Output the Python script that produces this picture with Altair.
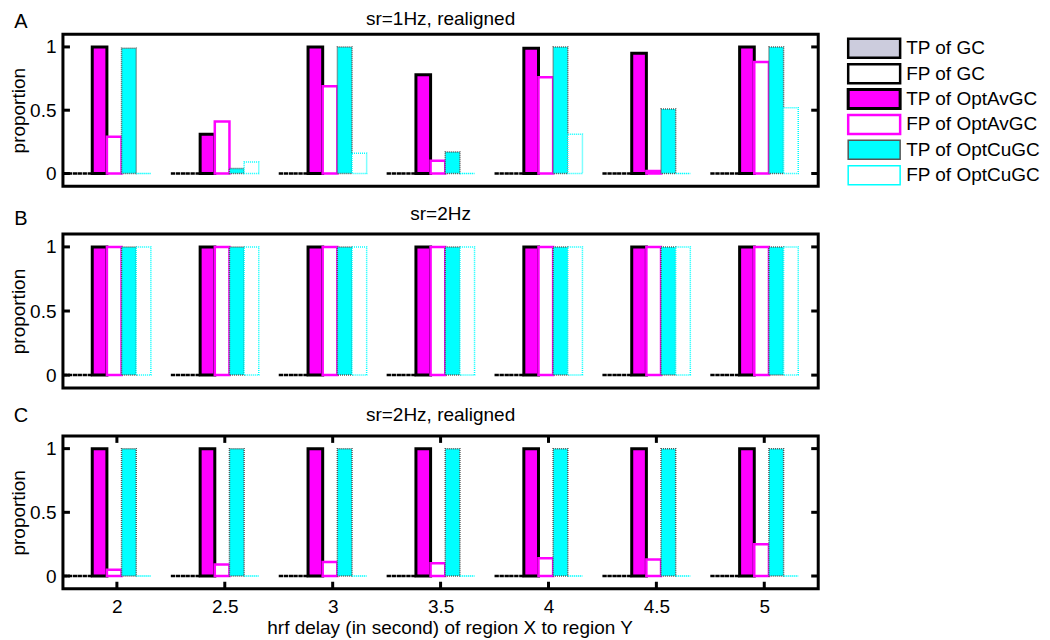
import altair as alt
import pandas as pd

# ---------------- data ----------------
delays = [2, 2.5, 3, 3.5, 4, 4.5, 5]
series_names = ["TP of GC", "FP of GC", "TP of OptAvGC", "FP of OptAvGC",
                "TP of OptCuGC", "FP of OptCuGC"]

# Panel A: sr=1Hz, realigned
a_tp_gc = [0, 0, 0, 0, 0, 0, 0]
a_fp_gc = [0, 0, 0, 0, 0, 0, 0]
a_tp_av = [1.0, 0.31, 1.0, 0.78, 0.99, 0.95, 1.0]
a_fp_av = [0.29, 0.41, 0.69, 0.10, 0.76, 0.02, 0.88]
a_tp_cu = [0.99, 0.04, 1.0, 0.17, 1.0, 0.51, 1.0]
a_fp_cu = [0.0, 0.09, 0.16, 0.0, 0.31, 0.0, 0.52]

# Panel B: sr=2Hz
b_tp_gc = [0, 0, 0, 0, 0, 0, 0]
b_fp_gc = [0, 0, 0, 0, 0, 0, 0]
b_tp_av = [1, 1, 1, 1, 1, 1, 1]
b_fp_av = [1, 1, 1, 1, 1, 1, 1]
b_tp_cu = [1, 1, 1, 1, 1, 1, 1]
b_fp_cu = [1, 1, 1, 1, 1, 1, 1]

# Panel C: sr=2Hz, realigned
c_tp_gc = [0, 0, 0, 0, 0, 0, 0]
c_fp_gc = [0, 0, 0, 0, 0, 0, 0]
c_tp_av = [1, 1, 1, 1, 1, 1, 1]
c_fp_av = [0.05, 0.09, 0.11, 0.10, 0.14, 0.13, 0.25]
c_tp_cu = [1, 1, 1, 1, 1, 1, 1]
c_fp_cu = [0, 0, 0, 0, 0, 0, 0]

y_ticks = [0, 0.5, 1]
panel_titles = ["sr=1Hz, realigned", "sr=2Hz", "sr=2Hz, realigned"]
panel_letters = ["A", "B", "C"]

# ---------------- styling ----------------
W = 756
FONT = "Liberation Sans"
FS = 19
BAR_START = -0.25      # left edge of first bar relative to tick (data units)
BAR_STEP = 0.0679      # bar width (data units)

fills = ["#ccccdd", "white", "#ff00ff", "white", "#00ffff", "white"]
strokes = ["black", "black", "black", "#ff00ff", "#555555", "#00ffff"]
dashes = [[3, 2], [3, 2], [1, 0], [1, 0], [1, 1], [1, 1]]
widths = [2.5, 2.5, 3, 2.5, 1.5, 1.5]

xscale = alt.Scale(domain=[1.75, 5.25], nice=False, zero=False)
yscale = alt.Scale(domain=[-0.1, 1.1], nice=False, zero=False)


def style_enc():
    return dict(
        fill=alt.Fill("series:N", scale=alt.Scale(domain=series_names, range=fills), legend=None),
        stroke=alt.Stroke("series:N", scale=alt.Scale(domain=series_names, range=strokes), legend=None),
        strokeDash=alt.StrokeDash("series:N", scale=alt.Scale(domain=series_names, range=dashes), legend=None),
        strokeWidth=alt.StrokeWidth("series:N", scale=alt.Scale(type="ordinal", domain=series_names, range=widths), legend=None),
    )


def panel_df(lists):
    rows = []
    for k, (name, vals) in enumerate(zip(series_names, lists)):
        for d, v in zip(delays, vals):
            x0 = d + BAR_START + k * BAR_STEP
            rows.append(dict(series=name, k=k, delay=d, value=v, x0=x0, x1=x0 + BAR_STEP))
    return pd.DataFrame(rows)


def panel(lists, title, letter, H, show_x, legend=False, title_y=-11, letter_y=-8):
    df = panel_df(lists)
    if show_x:
        xaxis = alt.Axis(values=delays, format="~g", ticks=False, domain=False, grid=False,
                         labelPadding=9, labelFontSize=FS,
                         title="hrf delay (in second) of region X to region Y",
                         titleFontSize=FS, titleFontWeight="normal", titlePadding=2,
                         titleX=387)
    else:
        xaxis = None
    yaxis = alt.Axis(values=y_ticks, format="~g", ticks=False, domain=False, grid=False,
                     labelPadding=7, labelFontSize=FS, title="proportion",
                     titleFontSize=FS, titleFontWeight="normal", titlePadding=1)

    bars = alt.Chart(df).mark_bar(strokeJoin="miter").encode(
        x=alt.X("x0:Q", scale=xscale, axis=xaxis),
        x2="x1:Q",
        y=alt.Y("value:Q", scale=yscale, axis=yaxis),
        y2=alt.datum(0),
        **style_enc(),
    )
    tdf = pd.DataFrame({"t": y_ticks})
    yt_l = alt.Chart(tdf).mark_rule(color="black", strokeWidth=3).encode(
        y=alt.Y("t:Q", scale=yscale, axis=yaxis), x=alt.value(0), x2=alt.value(7))
    yt_r = alt.Chart(tdf).mark_rule(color="black", strokeWidth=3).encode(
        y=alt.Y("t:Q", scale=yscale, axis=yaxis), x=alt.value(W - 7), x2=alt.value(W))
    layers = [bars, yt_l, yt_r]
    if show_x:
        xdf = pd.DataFrame({"t": delays})
        xt_t = alt.Chart(xdf).mark_rule(color="black", strokeWidth=3).encode(
            x=alt.X("t:Q", scale=xscale, axis=xaxis), y=alt.value(0), y2=alt.value(7))
        xt_b = alt.Chart(xdf).mark_rule(color="black", strokeWidth=3).encode(
            x=alt.X("t:Q", scale=xscale, axis=xaxis), y=alt.value(H - 7), y2=alt.value(H))
        layers += [xt_t, xt_b]
    lab = alt.Chart(pd.DataFrame({"lab": [letter]})).mark_text(
        fontSize=20, align="center", baseline="alphabetic", color="black").encode(
        x=alt.value(-42), y=alt.value(letter_y), text="lab:N")
    ttl = alt.Chart(pd.DataFrame({"ttl": [title]})).mark_text(
        fontSize=FS, align="center", baseline="alphabetic", color="black").encode(
        x=alt.value(W / 2), y=alt.value(title_y), text="ttl:N")
    layers += [lab, ttl]
    main = alt.layer(*layers)

    if legend:
        ldf = pd.DataFrame({"series": series_names})
        lscale = alt.Scale(type="band", domain=series_names, range=[1.3, 153.7],
                           paddingInner=0.25, paddingOuter=0.125)
        lrect = alt.Chart(ldf).mark_rect(strokeJoin="miter").encode(
            y=alt.Y("series:N", scale=lscale, axis=None),
            x=alt.value(W + 30), x2=alt.value(W + 82),
            **style_enc(),
        )
        ltext = alt.Chart(ldf).mark_text(align="left", baseline="middle", fontSize=FS,
                                          color="black").encode(
            y=alt.Y("series:N", scale=lscale, axis=None),
            x=alt.value(W + 88), text="series:N")
        ch = alt.layer(main, alt.layer(lrect, ltext)).resolve_scale(y="independent")
    else:
        ch = main
    return ch.properties(width=W, height=H)


pA = panel([a_tp_gc, a_fp_gc, a_tp_av, a_fp_av, a_tp_cu, a_fp_cu],
           panel_titles[0], panel_letters[0], 152, False, legend=True,
           title_y=-9, letter_y=-6)
pB = panel([b_tp_gc, b_fp_gc, b_tp_av, b_fp_av, b_tp_cu, b_fp_cu],
           panel_titles[1], panel_letters[1], 154, False, title_y=-14, letter_y=-9)
pC = panel([c_tp_gc, c_fp_gc, c_tp_av, c_fp_av, c_tp_cu, c_fp_cu],
           panel_titles[2], panel_letters[2], 153, True, title_y=-15, letter_y=-14)

chart = alt.vconcat(pA, pB, pC, spacing=48, bounds="flush").properties(
    padding={"left": 0, "top": 0, "right": 0, "bottom": 0},
).configure(
    font=FONT, background="white"
).configure_view(
    stroke="black", strokeWidth=3, fill="white"
).configure_axis(
    labelFont=FONT, titleFont=FONT, labelColor="black", titleColor="black"
).configure_text(font=FONT)

chart.save("out.html", embed_options={"renderer": "svg", "actions": False})
